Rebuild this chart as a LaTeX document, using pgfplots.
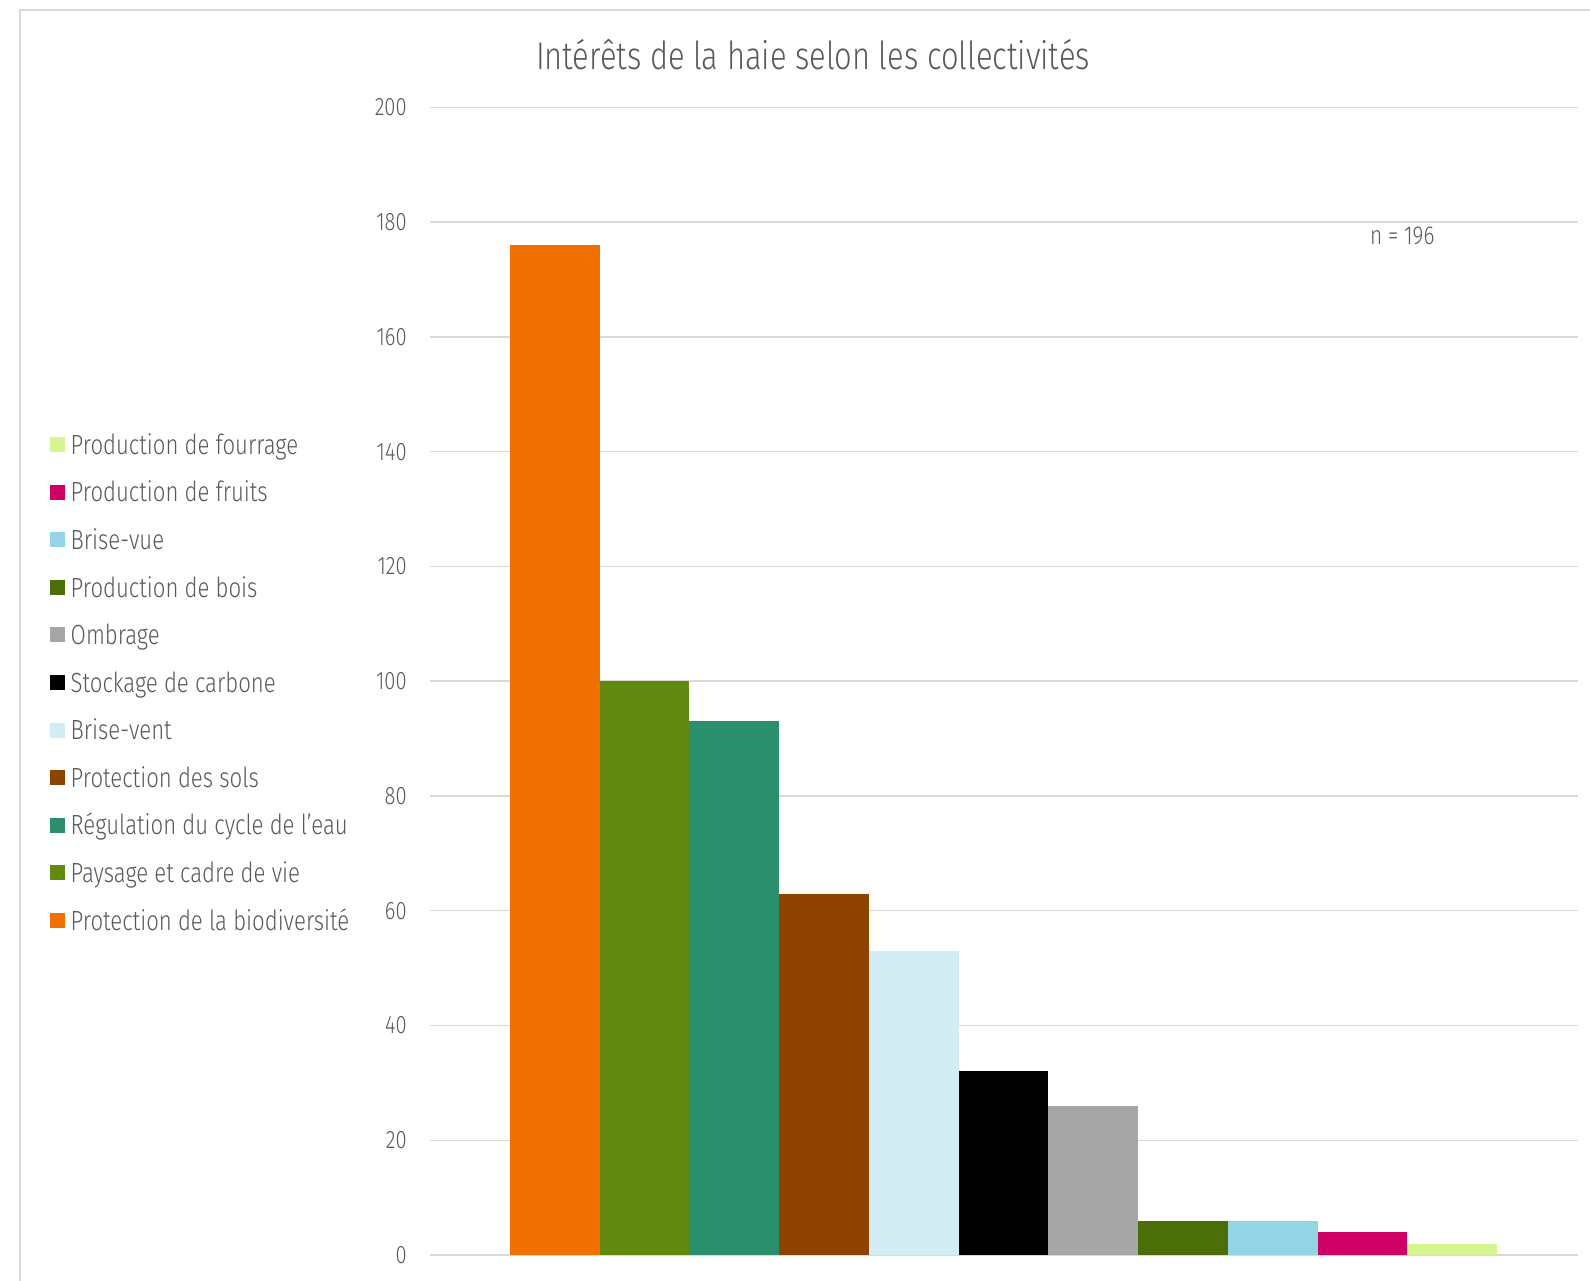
\documentclass[border=0pt]{standalone}
\usepackage{pgfplots}
\pgfplotsset{compat=1.18}
\usepackage{fontspec}
\setmainfont{Fira Sans}[UprightFont=* Light, FakeStretch=0.8]
\definecolor{txt}{HTML}{595959}
\definecolor{gridc}{HTML}{D9D9D9}
\definecolor{cBio}{HTML}{F07100}
\definecolor{cPay}{HTML}{628A10}
\definecolor{cEau}{HTML}{298F6C}
\definecolor{cSol}{HTML}{8F4300}
\definecolor{cVent}{HTML}{D2EEF4}
\definecolor{cCarb}{HTML}{000000}
\definecolor{cOmb}{HTML}{A6A6A6}
\definecolor{cBois}{HTML}{4C6E08}
\definecolor{cVue}{HTML}{93D5E7}
\definecolor{cFruit}{HTML}{CE0064}
\definecolor{cFour}{HTML}{D4F590}
\begin{document}
\begin{tikzpicture}
\begin{axis}[
  at={(215pt,12.5pt)}, anchor=south west,
  scale only axis, width=574pt, height=573.75pt,
  xmin=-1.389, xmax=11.40, ymin=0, ymax=200,
  ytick={0,20,...,200}, xtick=\empty,
  ymajorgrids, grid style={color=gridc, line width=0.75pt},
  axis line style={draw=none}, tick style={draw=none},
  ybar, bar width=1,
  /pgf/number format/assume math mode=true,
  yticklabel style={font=\fontsize{12.6}{15}\selectfont, text=txt, anchor=east, inner sep=0pt, xshift=-11.5pt},
  title={Intérêts de la haie selon les collectivités},
  title style={at={(axis description cs:0.3336,1.0230)}, anchor=base, font=\fontsize{19.3}{23}\selectfont, text=txt, inner sep=0pt},
  reverse legend,
  legend image code/.code={\draw[#1,draw=none] (0pt,-2.1pt) rectangle (7.5pt,5.4pt);},
  legend style={at={(axis description cs:-0.3310,0.7143)}, anchor=north west,
    draw=none, fill=none, inner sep=0pt, outer sep=0pt,
    row sep=11.29pt, column sep=2.85pt,
    font=\fontsize{13.85}{16}\selectfont, text=txt,
    nodes={inner sep=0pt, text height=9.5pt, text depth=3pt}},
  legend cell align=left,
]
\addplot[fill=cBio, draw=none, bar shift=0pt] coordinates {(0,176)};
\addlegendentry{Protection de la biodiversité}
\addplot[fill=cPay, draw=none, bar shift=0pt] coordinates {(1,100)};
\addlegendentry{Paysage et cadre de vie}
\addplot[fill=cEau, draw=none, bar shift=0pt] coordinates {(2,93)};
\addlegendentry{Régulation du cycle de l’eau}
\addplot[fill=cSol, draw=none, bar shift=0pt] coordinates {(3,63)};
\addlegendentry{Protection des sols}
\addplot[fill=cVent, draw=none, bar shift=0pt] coordinates {(4,53)};
\addlegendentry{Brise-vent}
\addplot[fill=cCarb, draw=none, bar shift=0pt] coordinates {(5,32)};
\addlegendentry{Stockage de carbone}
\addplot[fill=cOmb, draw=none, bar shift=0pt] coordinates {(6,26)};
\addlegendentry{Ombrage}
\addplot[fill=cBois, draw=none, bar shift=0pt] coordinates {(7,6)};
\addlegendentry{Production de bois}
\addplot[fill=cVue, draw=none, bar shift=0pt] coordinates {(8,6)};
\addlegendentry{Brise-vue}
\addplot[fill=cFruit, draw=none, bar shift=0pt] coordinates {(9,4)};
\addlegendentry{Production de fruits}
\addplot[fill=cFour, draw=none, bar shift=0pt] coordinates {(10,2)};
\addlegendentry{Production de fourrage}
\node[anchor=west, inner sep=0pt, text=txt, font=\fontsize{13}{15}\selectfont] at (axis cs:9.08,177.6) {n = 196};
\end{axis}
\draw[gridc, line width=1pt] (10pt,-5pt) -- (10pt,635pt) -- (800pt,635pt);
\pgfresetboundingbox
\useasboundingbox (0,0) rectangle (795pt,640pt);
\end{tikzpicture}
\end{document}
